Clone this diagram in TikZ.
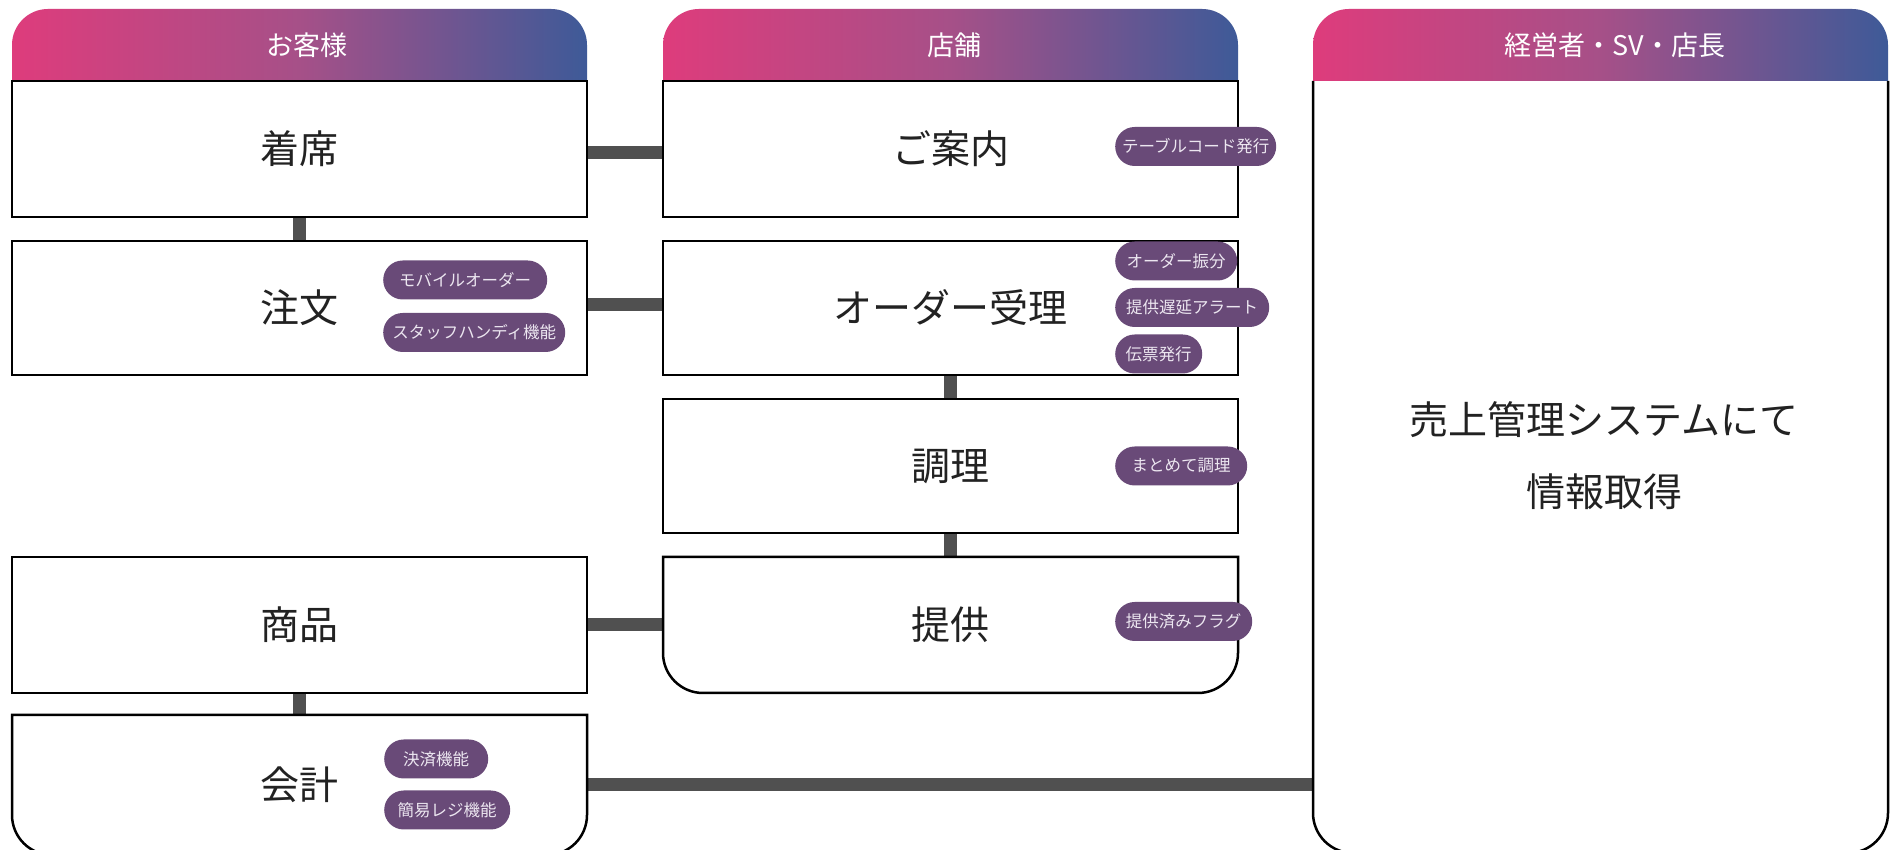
\documentclass[tikz,border=0pt]{standalone}
\usepackage{fontspec}
\setmainfont{Noto Sans CJK JP}
\usetikzlibrary{calc}
\definecolor{hpink}{RGB}{222,60,124}
\definecolor{hmid}{RGB}{166,80,136}
\definecolor{hblue}{RGB}{62,90,152}
\definecolor{pillc}{RGB}{105,74,120}
\definecolor{pilltxt}{RGB}{236,230,240}
\definecolor{connc}{RGB}{80,80,80}
\definecolor{txtc}{RGB}{34,34,34}
\pgfdeclarelayer{bglayer}
\pgfdeclarelayer{connlayer}
\pgfdeclarelayer{shapelayer}
\pgfsetlayers{bglayer,connlayer,shapelayer,main}
\begin{document}
\begin{tikzpicture}[x=1pt,y=1pt,
  box/.style={rectangle, draw=black, line width=2.5pt, fill=white, minimum width=575pt, inner sep=0pt, outer sep=0pt, font=\fontsize{39}{47}\selectfont, text=txtc},
  boxshape/.style={rectangle, inner sep=0pt, outer sep=0pt, minimum width=575pt, font=\fontsize{39}{47}\selectfont, text=txtc},
  outline/.style={draw=black, line width=2.5pt, fill=white},
  connline/.style={draw=connc, line width=13pt},
  hdr/.style={text=white, font=\fontsize{27}{32}\selectfont, inner sep=0pt},
  hdrfill/.style={left color=hpink, right color=hblue, middle color=hmid},
  pill/.style={rectangle, rounded corners=19.5pt, fill=pillc, text=pilltxt, font=\fontsize{16.5}{18}\selectfont, minimum height=39pt, inner sep=0pt, anchor=west}
]
\useasboundingbox (0,0) rectangle (1893,850);
\clip (0,0) rectangle (1893,850);
\begin{pgfonlayer}{bglayer}
\fill[white] (0,0) rectangle (1893,850);
\end{pgfonlayer}

% headers
\shade[hdrfill] (12,769) -- (12,805) arc[start angle=180,end angle=90,radius=36pt] -- (551,841) arc[start angle=90,end angle=0,radius=36pt] -- (587,769) -- cycle;
\shade[hdrfill] (663,769) -- (663,805) arc[start angle=180,end angle=90,radius=36pt] -- (1202,841) arc[start angle=90,end angle=0,radius=36pt] -- (1238,769) -- cycle;
\shade[hdrfill] (1313,769) -- (1313,805) arc[start angle=180,end angle=90,radius=36pt] -- (1852,841) arc[start angle=90,end angle=0,radius=36pt] -- (1888,769) -- cycle;
\node[hdr] (hcust) at (307,805) {お客様};
\node[hdr] (hshop) at (954,805) {店舗};
\node[hdr] (hmgr) at (1615,805) {経営者・SV・店長};

% left column
\node[box, minimum height=136pt] (chaku) at (299.5,701) {着席};
\node[box, minimum height=134pt] (chumon) at (299.5,542) {注文};
\node[box, minimum height=136pt] (shohin) at (299.5,225) {商品};
\node[boxshape, minimum height=140pt] (kaikei) at (299.5,65) {会計};

% middle column
\node[box, minimum height=136pt] (annai) at (950.5,701) {ご案内};
\node[box, minimum height=134pt] (order) at (950.5,542) {オーダー受理};
\node[box, minimum height=134pt] (chori) at (950.5,384) {調理};
\node[boxshape, minimum height=136pt] (teikyo) at (950.5,225) {提供};

% right column
\node[boxshape, minimum height=772pt] (kanri) at (1600.5,383) {};
\node[boxshape, minimum width=0pt, align=center, font=\fontsize{39}{72}\selectfont] (kanritxt) at (1604,394) {売上管理システムにて\\情報取得};

\begin{pgfonlayer}{shapelayer}
\draw[outline] (teikyo.north west) -- ($(teikyo.south west)+(0,40)$) arc[start angle=180,end angle=270,radius=40pt] -- ($(teikyo.south east)+(-40,0)$) arc[start angle=270,end angle=360,radius=40pt] -- (teikyo.north east) -- cycle;
\draw[outline] (kaikei.north west) -- ($(kaikei.south west)+(0,40)$) arc[start angle=180,end angle=270,radius=40pt] -- ($(kaikei.south east)+(-40,0)$) arc[start angle=270,end angle=360,radius=40pt] -- (kaikei.north east) -- cycle;
\fill[white] (kanri.north west) -- ($(kanri.south west)+(0,40)$) arc[start angle=180,end angle=270,radius=40pt] -- ($(kanri.south east)+(-40,0)$) arc[start angle=270,end angle=360,radius=40pt] -- (kanri.north east) -- cycle;
\draw[draw=black, line width=2.5pt] (kanri.north west) -- ($(kanri.south west)+(0,40)$) arc[start angle=180,end angle=270,radius=40pt] -- ($(kanri.south east)+(-40,0)$) arc[start angle=270,end angle=360,radius=40pt] -- (kanri.north east);
\end{pgfonlayer}

\begin{pgfonlayer}{connlayer}
\draw[connline] ([yshift=-4pt]chaku.east) -- ([yshift=-4pt]annai.west);
\draw[connline] ([yshift=3pt]chumon.east) -- ([yshift=3pt]order.west);
\draw[connline] (shohin.east) -- (teikyo.west);
\draw[connline] (kaikei.east) -- (kaikei.east -| kanri.west);
\draw[connline] (chaku.south) -- (chumon.north);
\draw[connline] (shohin.south) -- (kaikei.north);
\draw[connline] (order.south) -- (chori.north);
\draw[connline] (chori.south) -- (teikyo.north);
\end{pgfonlayer}

% pills
\node[pill, minimum width=164pt] (p1) at (383,570) {モバイルオーダー};
\node[pill, minimum width=182pt] (p2) at (383,517.5) {スタッフハンディ機能};
\node[pill, minimum width=161pt] (p3) at (1115,703.5) {テーブルコード発行};
\node[pill, minimum width=122pt] (p4) at (1115,589) {オーダー振分};
\node[pill, minimum width=154pt] (p5) at (1115,542.5) {提供遅延アラート};
\node[pill, minimum width=87pt] (p6) at (1115,496) {伝票発行};
\node[pill, minimum width=132pt] (p7) at (1115,384) {まとめて調理};
\node[pill, minimum width=137pt] (p8) at (1115,228.5) {提供済みフラグ};
\node[pill, minimum width=104pt] (p9) at (384,91) {決済機能};
\node[pill, minimum width=126pt] (p10) at (384,40) {簡易レジ機能};
\end{tikzpicture}
\end{document}
